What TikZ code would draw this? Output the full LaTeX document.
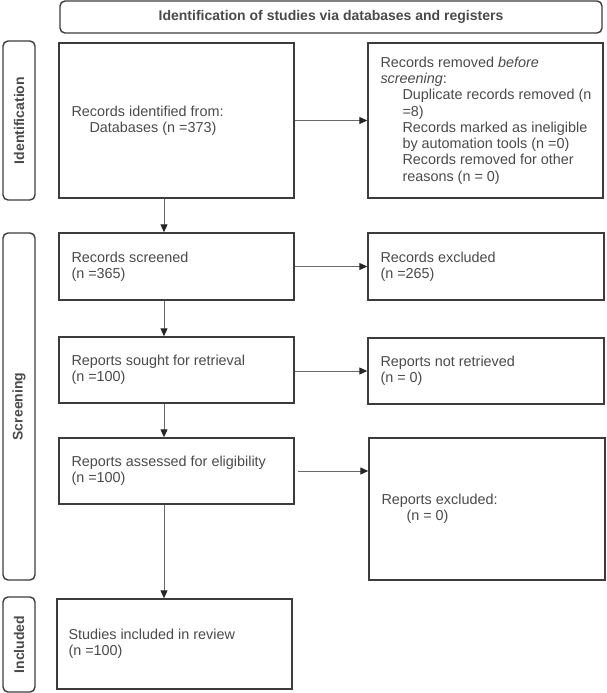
\documentclass[tikz,border=0pt]{standalone}
\usepackage{fontspec}
\setmainfont{Liberation Sans}
\usetikzlibrary{arrows.meta}
\definecolor{ln}{HTML}{3C3C3C}
\definecolor{tx}{HTML}{4A4A4A}
\definecolor{ar}{HTML}{6A6A6A}
\begin{document}
\begin{tikzpicture}[x=1pt,y=-1pt,
  box/.style={draw=ln,line width=1.4pt,inner sep=0pt},
  lane/.style={draw=ln,line width=1.4pt,rounded corners=5pt,inner sep=0pt,rotate=90,
    minimum height=32pt,font=\fontsize{14}{16}\selectfont\bfseries,text=tx},
  txt/.style={anchor=west,align=left,inner sep=0pt,text=tx,font=\fontsize{14.4}{16.3}\selectfont},
  arr/.style={draw=ar,line width=1pt,-{Triangle[length=8pt,width=7pt,color=black!85]}}]
\useasboundingbox (0,0) rectangle (606,693);
% title
\node[box,rounded corners=5pt,minimum width=542pt,minimum height=32pt,
  font=\fontsize{14}{16}\selectfont\bfseries,text=tx] (title) at (331,17)
  {Identification of studies via databases and registers};
% lanes
\node[lane,minimum width=159pt] (lid) at (19,120.5) {Identification};
\node[lane,minimum width=347pt] (lsc) at (19,406.5) {Screening};
\node[lane,minimum width=95pt] (lin) at (19,644.5) {Included};
% boxes
\node[box,minimum width=235pt,minimum height=155pt] (b1) at (176.5,120.5) {};
\node[box,minimum width=235pt,minimum height=155pt] (b2) at (485.5,120.5) {};
\node[box,minimum width=235pt,minimum height=67pt] (b3) at (176.5,266.5) {};
\node[box,minimum width=236pt,minimum height=67pt] (b4) at (486,266.5) {};
\node[box,minimum width=235pt,minimum height=66pt] (b5) at (176.5,370) {};
\node[box,minimum width=236pt,minimum height=66pt] (b6) at (486,371) {};
\node[box,minimum width=235pt,minimum height=66pt] (b7) at (176.5,471) {};
\node[box,minimum width=236pt,minimum height=142pt] (b8) at (487,509) {};
\node[box,minimum width=235pt,minimum height=90pt] (b9) at (174.5,644) {};
% texts
\node[txt] (t1) at ([xshift=13pt]b1.west) {Records identified from:\\\hspace*{18pt}Databases (n =373)};
\node[txt] (t2) at ([xshift=13pt]b2.west) {Records removed \textit{before}\\\textit{screening}:\\
  \hspace*{22pt}Duplicate records removed (n\\\hspace*{22pt}=8)\\
  \hspace*{22pt}Records marked as ineligible\\\hspace*{22pt}by automation tools (n =0)\\
  \hspace*{22pt}Records removed for other\\\hspace*{22pt}reasons (n = 0)};
\node[txt] (t3) at ([xshift=13pt]b3.west) {Records screened\\(n =365)};
\node[txt] (t4) at ([xshift=13pt]b4.west) {Records excluded\\(n =265)};
\node[txt] (t5) at ([xshift=13pt]b5.west) {Reports sought for retrieval\\(n =100)};
\node[txt] (t6) at ([xshift=13pt]b6.west) {Reports not retrieved\\(n = 0)};
\node[txt] (t7) at ([xshift=13pt]b7.west) {Reports assessed for eligibility\\(n =100)};
\node[txt] (t8) at ([xshift=13pt]b8.west) {Reports excluded:\\\hspace*{25pt}(n = 0)};
\node[txt] (t9) at ([xshift=12pt]b9.west) {Studies included in review\\(n =100)};
% connectors
\coordinate (vx) at (164,0);
\draw[arr] (b1.east) -- (b2.west);
\draw[arr] (b3.east) -- (b4.west);
\draw[arr] (b5.east |- b6.west) -- (b6.west);
\draw[arr] ([xshift=3pt]b7.east) -- (b8.west |- b7.east);
\draw[arr] (b1.south -| vx) -- (b3.north -| vx);
\draw[arr] (b3.south -| vx) -- (b5.north -| vx);
\draw[arr] (b5.south -| vx) -- (b7.north -| vx);
\draw[arr] (b7.south -| vx) -- (b9.north -| vx);
\end{tikzpicture}
\end{document}
